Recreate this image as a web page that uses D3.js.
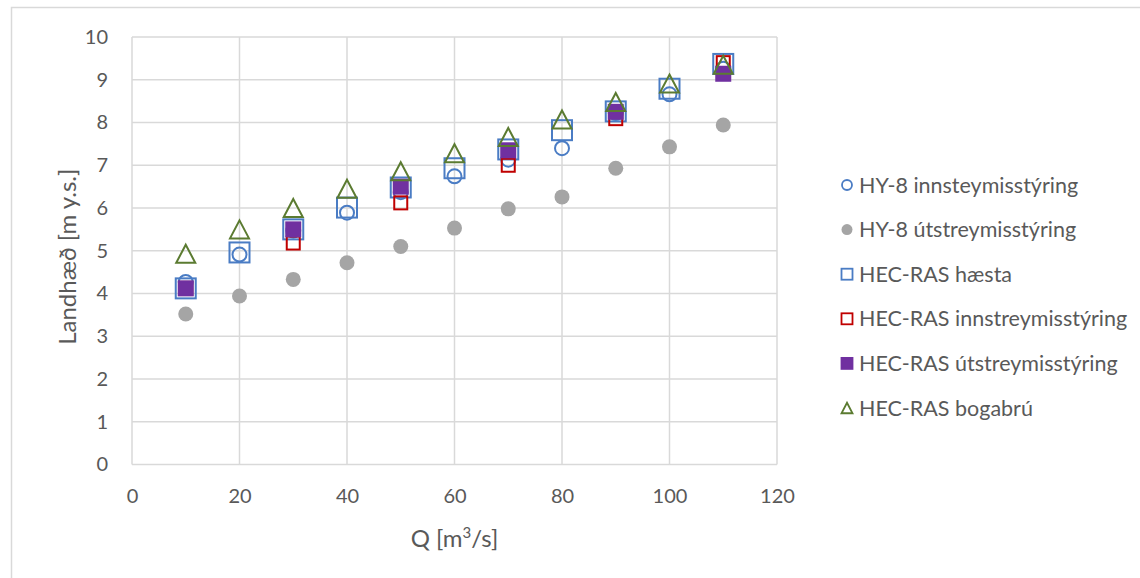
<!DOCTYPE html>
<html>
<head>
<meta charset="utf-8">
<script src="https://cdn.jsdelivr.net/npm/d3@7"></script>
<style>
  html, body { margin: 0; padding: 0; background: #fff; }
  svg { display: block; font-family: Lato, "Open Sans", sans-serif; }
</style>
</head>
<body>
<svg id="chart" width="1140" height="578"></svg>
<script>
// Water level vs. discharge, HY-8 and HEC-RAS results
const qAll = [10, 20, 30, 40, 50, 60, 70, 80, 90, 100, 110];
const qOdd = [10, 30, 50, 70, 90, 110];

const hy8Inn    = [4.27, 4.91, 5.47, 5.89, 6.37, 6.74, 7.13, 7.40, 8.22, 8.66, 9.26];
const hy8Ut     = [3.52, 3.94, 4.33, 4.72, 5.10, 5.53, 5.98, 6.26, 6.93, 7.43, 7.94];
const hecHaesta = [4.12, 4.96, 5.50, 6.01, 6.48, 6.93, 7.37, 7.82, 8.26, 8.79, 9.37];
const hecInn    = [4.12, 5.18, 6.12, 7.00, 8.09, 9.40];
const hecUt     = [4.12, 5.50, 6.50, 7.35, 8.25, 9.14];
const hecBoga   = [4.93, 5.50, 6.00, 6.45, 6.86, 7.28, 7.66, 8.07, 8.48, 8.91, 9.35];

const xTicks = [0, 20, 40, 60, 80, 100, 120];
const yTicks = [0, 1, 2, 3, 4, 5, 6, 7, 8, 9, 10];

const seriesNames = [
  "HY-8 innsteymisstýring",
  "HY-8 útstreymisstýring",
  "HEC-RAS hæsta",
  "HEC-RAS innstreymisstýring",
  "HEC-RAS útstreymisstýring",
  "HEC-RAS bogabrú"
];

const series = [
  { name: seriesNames[0], q: qAll, v: hy8Inn,    shape: "circle",   fill: "none",    stroke: "#4a7cc4", size: 7,   lsize: 5 },
  { name: seriesNames[1], q: qAll, v: hy8Ut,     shape: "circle",   fill: "#a5a5a5", stroke: "none",    size: 7.5, lsize: 5.5 },
  { name: seriesNames[2], q: qAll, v: hecHaesta, shape: "square",   fill: "none",    stroke: "#4a7cc4", size: 20,  lsize: 11 },
  { name: seriesNames[3], q: qOdd, v: hecInn,    shape: "square",   fill: "none",    stroke: "#c00000", size: 13,  lsize: 11 },
  { name: seriesNames[4], q: qOdd, v: hecUt,     shape: "square",   fill: "#7030a0", stroke: "#7030a0", size: 14,  lsize: 11 },
  { name: seriesNames[5], q: qAll, v: hecBoga,   shape: "triangle", fill: "none",    stroke: "#5b7b31", size: 19,  lsize: 11 }
];

const svg = d3.select("#chart");
const W = 1140, H = 578;
const plot = { left: 132, right: 777, top: 37, bottom: 464.5 };

const x = d3.scaleLinear().domain([0, 120]).range([plot.left, plot.right]);
const y = d3.scaleLinear().domain([0, 10]).range([plot.bottom, plot.top]);

// chart frame
svg.append("rect")
  .attr("x", 11.5).attr("y", 7.5)
  .attr("width", W + 20).attr("height", H + 20)
  .attr("fill", "#fff").attr("stroke", "#d9d9d9").attr("stroke-width", 1.5);

// gridlines
const grid = svg.append("g").attr("stroke", "#d9d9d9").attr("stroke-width", 1.5);
grid.selectAll("line.h").data(yTicks).join("line")
  .attr("x1", plot.left).attr("x2", plot.right)
  .attr("y1", d => y(d)).attr("y2", d => y(d));
grid.selectAll("line.v").data(xTicks).join("line")
  .attr("x1", d => x(d)).attr("x2", d => x(d))
  .attr("y1", plot.top).attr("y2", plot.bottom);

// axes (labels only, lines come from the grid)
const xAxis = svg.append("g")
  .attr("transform", `translate(0,${plot.bottom})`)
  .call(d3.axisBottom(x).tickValues(xTicks).tickSize(0).tickPadding(24));
const yAxis = svg.append("g")
  .attr("transform", `translate(${plot.left},0)`)
  .call(d3.axisLeft(y).tickValues(yTicks).tickSize(0).tickPadding(24));
[xAxis, yAxis].forEach(a => {
  a.select(".domain").remove();
  a.selectAll("text")
    .attr("fill", "#595959")
    .style("font-family", "Lato, sans-serif")
    .style("font-size", "20px");
});

// axis titles
svg.append("text")
  .attr("x", (plot.left + plot.right) / 2).attr("y", 547)
  .attr("text-anchor", "middle").attr("fill", "#595959")
  .style("font-size", "24px")
  .html('Q [m<tspan dy="-9" font-size="15">3</tspan><tspan dy="9">/s]</tspan>');

svg.append("text")
  .attr("transform", `translate(76,${(plot.top + plot.bottom) / 2 + 6}) rotate(-90)`)
  .attr("text-anchor", "middle").attr("fill", "#595959")
  .style("font-size", "24px")
  .text("Landhæð [m y.s.]");

// marker drawing
function drawMarker(g, s, size) {
  if (s.shape === "circle") {
    return g.append("circle").attr("r", size);
  } else if (s.shape === "square") {
    return g.append("rect").attr("x", -size / 2).attr("y", -size / 2)
      .attr("width", size).attr("height", size);
  } else {
    const h = size * 0.95, w = size;
    return g.append("path")
      .attr("d", `M0,${-h / 2}L${w / 2},${h / 2}L${-w / 2},${h / 2}Z`);
  }
}

const marks = svg.append("g");
series.forEach(s => {
  const sg = marks.append("g");
  s.q.forEach((q, i) => {
    const g = sg.append("g").attr("transform", `translate(${x(q)},${y(s.v[i])})`);
    drawMarker(g, s, s.size)
      .attr("fill", s.fill)
      .attr("stroke", s.stroke)
      .attr("stroke-width", 2);
  });
});

// legend
const legend = svg.append("g").attr("transform", "translate(847,185)");
series.forEach((s, i) => {
  const row = legend.append("g").attr("transform", `translate(0,${i * 44.6})`);
  drawMarker(row.append("g"), s, s.lsize)
    .attr("fill", s.fill)
    .attr("stroke", s.stroke)
    .attr("stroke-width", 1.8);
  row.append("text")
    .attr("x", 12).attr("y", 0).attr("dy", "0.35em")
    .attr("fill", "#595959")
    .style("font-size", "21.5px")
    .text(s.name);
});
</script>
</body>
</html>
